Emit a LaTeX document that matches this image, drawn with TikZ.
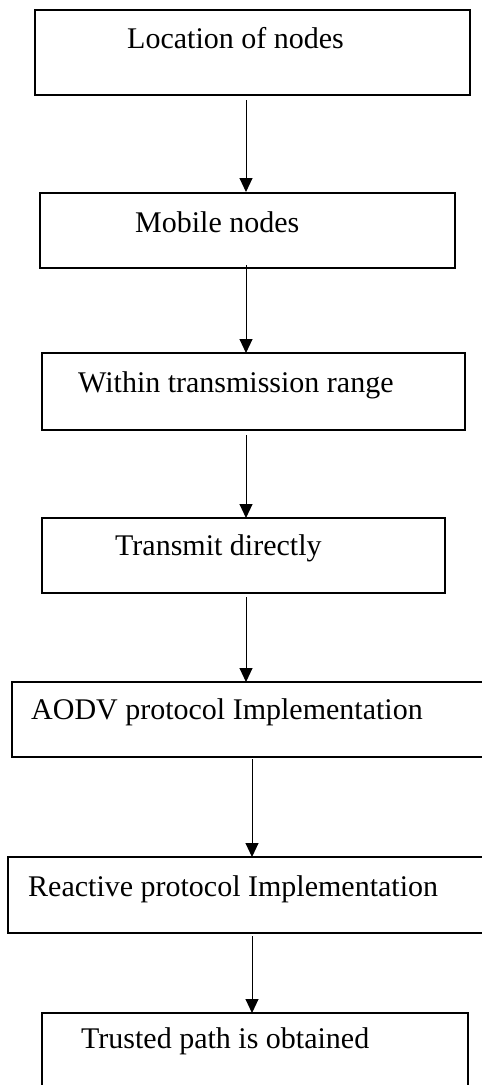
\documentclass[tikz,border=0pt]{standalone}
\usepackage{fontspec}
\setmainfont{Liberation Serif}
\usetikzlibrary{arrows.meta}
\begin{document}
\begin{tikzpicture}[x=1pt,y=-1pt,
  boxline/.style={draw=black,line width=1.3pt},
  lbl/.style={anchor=base west,inner sep=0pt,font=\fontsize{30}{36}\selectfont},
  flow/.style={draw=black,line width=1pt,-{Triangle[length=14pt,width=13pt]}}]
\useasboundingbox (0,0) rectangle (482,1085);
% boxes
\draw[boxline] (35,10) rectangle (470,95);
\node[lbl] (t1) at (127,48) {Location of nodes};
\draw[boxline] (40,193) rectangle (455,268);
\node[lbl] (t2) at (135,232) {Mobile nodes};
\draw[boxline] (42,353) rectangle (465,430);
\node[lbl] (t3) at (78,392) {Within transmission range};
\draw[boxline] (42,518) rectangle (445,593);
\node[lbl] (t4) at (115,555) {Transmit directly};
\draw[boxline] (12,682) rectangle (490,757);
\node[lbl] (t5) at (31,719) {AODV protocol Implementation};
\draw[boxline] (8,857) rectangle (490,933);
\node[lbl] (t6) at (28,896) {Reactive protocol Implementation};
\draw[boxline] (42,1100) -- (42,1013) -- (468,1013) -- (468,1100);
\node[lbl] (t7) at (81,1048) {Trusted path is obtained};
% connector end points
\coordinate (a1s) at (246,100); \coordinate (a1e) at (246,192);
\coordinate (a2s) at (246,265); \coordinate (a2e) at (246,353);
\coordinate (a3s) at (246,435); \coordinate (a3e) at (246,518);
\coordinate (a4s) at (246,597); \coordinate (a4e) at (246,682);
\coordinate (a5s) at (252,759); \coordinate (a5e) at (252,857);
\coordinate (a6s) at (252,936); \coordinate (a6e) at (252,1013);
\draw[flow] (a1s) -- (a1e);
\draw[flow] (a2s) -- (a2e);
\draw[flow] (a3s) -- (a3e);
\draw[flow] (a4s) -- (a4e);
\draw[flow] (a5s) -- (a5e);
\draw[flow] (a6s) -- (a6e);
\end{tikzpicture}
\end{document}
